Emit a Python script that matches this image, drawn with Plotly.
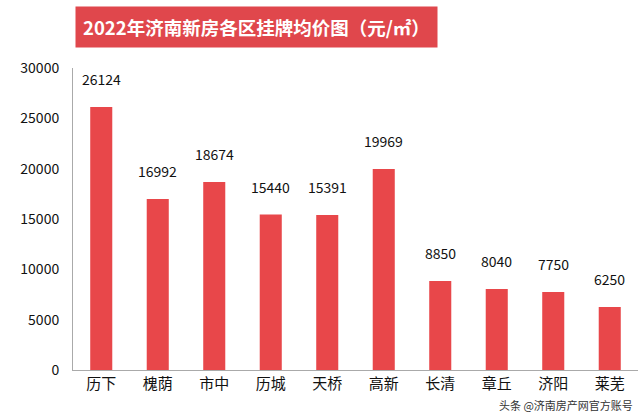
import plotly.graph_objects as go

categories = ["历下", "槐荫", "市中", "历城", "天桥", "高新", "长清", "章丘", "济阳", "莱芜"]
values = [26124, 16992, 18674, 15440, 15391, 19969, 8850, 8040, 7750, 6250]
y_ticks = [0, 5000, 10000, 15000, 20000, 25000, 30000]
title_text = "2022年济南新房各区挂牌均价图（元/㎡）"
watermark = "头条 @济南房产网官方账号"

FONT = "Noto Sans CJK SC, Noto Sans, sans-serif"
RED = "#E8474A"

fig = go.Figure(go.Bar(x=categories, y=values, marker_color=RED, marker_line_width=0))

for c, v in zip(categories, values):
    fig.add_annotation(x=c, y=v, text=str(v), showarrow=False, yanchor="bottom",
                       yshift=16, font=dict(size=14, color="#111", family=FONT))

fig.add_annotation(xref="paper", yref="paper", x=(256 - 73) / (638 - 73), y=1.135,
                   text="<b>" + title_text + "</b>", showarrow=False,
                   font=dict(size=18.5, color="white", family=FONT),
                   bgcolor="#E0474C", borderpad=7, xanchor="center", yanchor="middle")

fig.add_annotation(xref="paper", yref="paper", x=0.995, y=-0.115,
                   text=watermark, showarrow=False, xanchor="right", yanchor="middle",
                   font=dict(size=11, color="#333", family=FONT))

fig.update_layout(
    width=640, height=414,
    margin=dict(l=73, r=2, t=68, b=44),
    paper_bgcolor="white", plot_bgcolor="white",
    bargap=0.61, showlegend=False,
    font=dict(family=FONT, color="#111"),
    xaxis=dict(showline=True, linecolor="#aaa", linewidth=1, ticks="",
               tickfont=dict(size=15, color="#111"), showgrid=False),
    yaxis=dict(range=[0, 30000], tickvals=y_ticks, ticktext=[str(t) for t in y_ticks],
               showline=True, linecolor="#aaa",
               linewidth=1, showgrid=False, zeroline=False, ticks="", ticklen=0,
               tickfont=dict(size=14, color="#111"), ticklabelstandoff=10),
)

fig.write_html("out.html")
